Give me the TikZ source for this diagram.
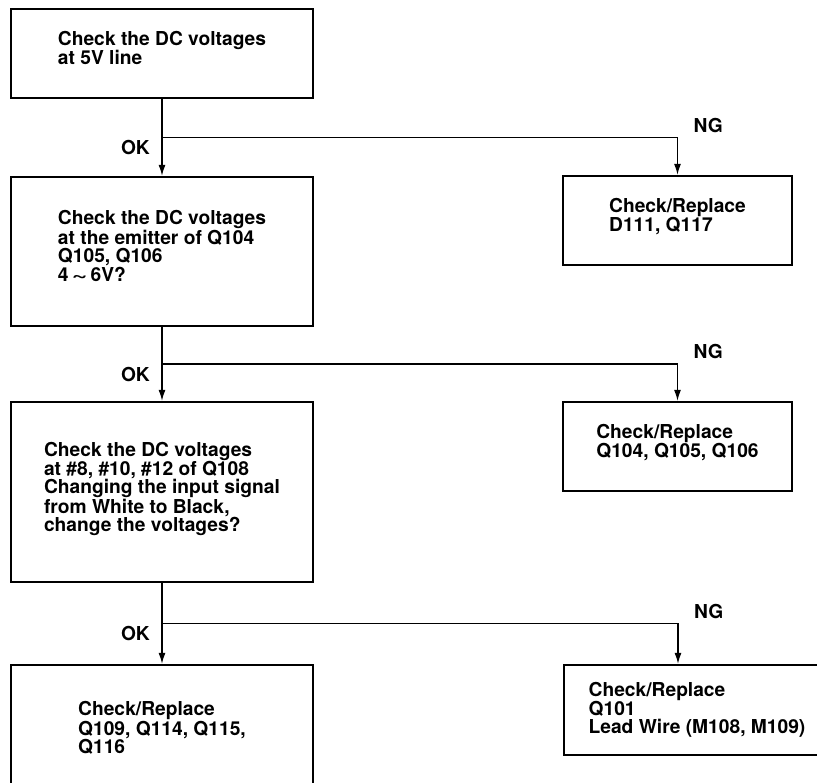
\documentclass[tikz,border=0pt]{standalone}
\usepackage{fontspec}
\setsansfont{TeX Gyre Heros}
\usepackage{tikz}
\usetikzlibrary{calc, arrows.meta, positioning}

\tikzset{
    chu/.style={font=\sffamily\bfseries\fontsize{19.2}{18}\selectfont},
    khoi/.style={chu, draw, line width=2.4pt, align=left, inner sep=0pt},
    nhan/.style={chu, inner sep=0pt},
    noi/.style={->, line width=1.2pt}
}

\begin{document}
\begin{tikzpicture}[x=1pt, y=-1pt, >={Latex[length=11pt,width=7pt]}]
    \useasboundingbox (0,0) rectangle (817,783);
    \clip (0,0) rectangle (817,783);

    % Các khối kiểm tra (cột trái)
    \node[khoi, minimum width=302pt, minimum height=89pt] (dc5v) at (162,53.5)
        {Check the DC voltages\\at 5V line\\[-7pt]\mbox{}};
    \node[khoi, minimum width=302pt, minimum height=149pt] (dcemit) at (162,251.5)
        {Check the DC voltages\\at the emitter of Q104\\Q105, Q106\\[1pt]4\,\scalebox{1.4}[1]{\textasciitilde}\,6V?\\[-7pt]\mbox{}};
    \node[khoi, minimum width=302pt, minimum height=180pt] (dcpin) at (162,492)
        {Check the DC voltages\\at \#8, \#10, \#12 of Q108\\Changing the input signal\\from White to Black,\\change the voltages?\\[-7pt]\mbox{}};
    \node[khoi, minimum width=302pt, minimum height=126pt] (rpq109) at (162,728)
        {Check/Replace\\Q109, Q114, Q115,\\Q116};

    % Các khối thay thế (cột phải)
    \node[khoi, minimum width=229pt, minimum height=89pt] (rpd111) at (677.5,220.5)
        {Check/Replace\\D111, Q117\\[-7pt]\mbox{}};
    \node[khoi, minimum width=229pt, minimum height=89pt] (rpq104) at (677.5,446.5)
        {Check/Replace\\Q104, Q105, Q106\\[-7pt]\mbox{}};
    \node[khoi, minimum width=266pt, minimum height=90pt] (rpq101) at (697,710)
        {Check/Replace\\Q101\\Lead Wire (M108, M109)};

    % Điểm rẽ nhánh
    \coordinate (r1) at ($(dc5v.south)!0.5!(dcemit.north)$);
    \coordinate (r2) at ($(dcemit.south)!0.5!(dcpin.north)$);
    \coordinate (r3) at ($(dcpin.south)!0.5!(rpq109.north)$);
    \coordinate (g1) at (rpd111.north |- r1);
    \coordinate (g2) at (rpq104.north |- r2);
    \coordinate (g3) at ([xshift=-19pt]rpq101.north |- r3);

    % Mũi tên OK
    \draw[noi] (dc5v.south) -- (dcemit.north);
    \draw[noi] (dcemit.south) -- (dcpin.north);
    \draw[noi] (dcpin.south) -- (rpq109.north);
    \node[nhan, below left=3pt and 12pt of r1] (ok1) {OK};
    \node[nhan, below left=3pt and 12pt of r2] (ok2) {OK};
    \node[nhan, below left=3pt and 12pt of r3] (ok3) {OK};

    % Mũi tên NG
    \draw[noi] (r1) -| (rpd111.north);
    \draw[noi] (r2) -| (rpq104.north);
    \draw[noi] (r3) -| ([xshift=-19pt]rpq101.north);
    \node[nhan, above right=5pt and 16pt of g1] (ng1) {NG};
    \node[nhan, above right=5pt and 16pt of g2] (ng2) {NG};
    \node[nhan, above right=5pt and 16pt of g3] (ng3) {NG};

\end{tikzpicture}
\end{document}
